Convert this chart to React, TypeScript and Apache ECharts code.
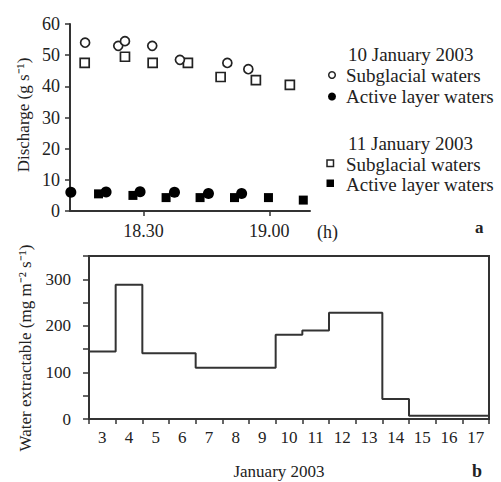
import React, { useEffect, useRef } from "react";
import * as echarts from "echarts";

// Panel a: discharge (minutes after 18:00 vs g s-1)
const sub10Time = [16.1, 24.0, 25.6, 32.1, 38.7, 50.0, 55.0];
const sub10Value = [54, 53, 54.5, 53, 48.5, 47.5, 45.5];
const act10Time = [12.7, 21.1, 29.2, 37.4, 45.5, 53.4];
const act10Value = [6.0, 6.1, 6.2, 6.0, 5.6, 5.6];
const sub11Time = [16.0, 25.6, 32.2, 40.6, 48.4, 56.8, 64.9];
const sub11Value = [47.5, 49.5, 47.5, 47.5, 43, 42, 40.5];
const act11Time = [19.3, 27.5, 35.4, 43.5, 51.7, 59.8, 68.1];
const act11Value = [5.5, 5.0, 4.3, 4.3, 4.3, 4.3, 3.5];
const timeTicks = [30, 60];
const timeTickLabels = ["18.30", "19.00"];

// Panel b: water extractable per day (step)
const days = ["3", "4", "5", "6", "7", "8", "9", "10", "11", "12", "13", "14", "15", "16", "17"];
const stepEdges = [2.5, 3.5, 4.5, 6.5, 9.5, 10.5, 11.5, 13.5, 14.5, 17.5];
const stepValues = [145, 288, 141, 110, 181, 190, 228, 43, 7, 7];

const FONT = "Liberation Serif";
const TXT = "#222";
const LINE = "#333";

const zip = (xs: number[], ys: number[]) => xs.map((x, i) => [x, ys[i]]);

const txt = (x: number, y: number, text: string, extra: any = {}, fontSize = 19, fontWeight = "normal") => ({
  type: "text",
  x,
  y,
  ...extra,
  style: {
    text,
    fill: TXT,
    fontFamily: FONT,
    fontSize,
    fontWeight,
    textVerticalAlign: "middle",
    ...(extra.style || {}),
  },
});

export default function App() {
  const ref = useRef<HTMLDivElement>(null);
  useEffect(() => {
    if (!ref.current) return;
    const chart = echarts.init(ref.current, undefined, { renderer: "svg" });
    const axisLine = { show: true, lineStyle: { color: LINE, width: 2 } };
    const label = { color: TXT, fontFamily: FONT, fontSize: 18 };
    chart.setOption({
      animation: false,
      backgroundColor: "#fff",
      textStyle: { fontFamily: FONT, color: TXT },
      grid: [
        { left: 70, top: 24, width: 240, height: 187, show: false },
        { left: 89, top: 256, width: 400, height: 163, show: true, borderColor: LINE, borderWidth: 2 },
      ],
      xAxis: [
        {
          type: "value",
          gridIndex: 0,
          min: 12.5,
          max: 69.7,
          splitLine: { show: false },
          axisLine,
          axisTick: { show: true, length: 5, lineStyle: { color: LINE, width: 1.5 }, customValues: timeTicks },
          axisLabel: {
            ...label,
            margin: 11,
            customValues: timeTicks,
            formatter: (v: number) => timeTickLabels[timeTicks.indexOf(v)] ?? "",
          },
        },
        {
          type: "category",
          gridIndex: 1,
          data: days,
          boundaryGap: true,
          axisLine,
          axisTick: { show: true, length: 5, interval: 0, alignWithLabel: false, lineStyle: { color: LINE, width: 1.5 } },
          axisLabel: { ...label, fontSize: 17, margin: 10, interval: 0 },
          splitLine: { show: false },
        },
        {
          type: "value",
          gridIndex: 1,
          min: 2.5,
          max: 17.5,
          show: false,
        },
      ],
      yAxis: [
        {
          type: "value",
          gridIndex: 0,
          min: 0,
          max: 60,
          interval: 10,
          splitLine: { show: false },
          axisLine,
          axisTick: { show: true, length: 5, lineStyle: { color: LINE, width: 1.5 } },
          axisLabel: { ...label, margin: 10 },
        },
        {
          type: "value",
          gridIndex: 1,
          min: 0,
          max: 350,
          interval: 50,
          splitLine: { show: false },
          axisLine,
          axisTick: { show: true, length: 6, lineStyle: { color: LINE, width: 1.5 } },
          axisLabel: {
            ...label,
            fontSize: 17,
            margin: 18,
            formatter: (v: number) => (v % 100 === 0 && v < 350 ? String(v) : ""),
          },
        },
      ],
      series: [
        {
          type: "scatter",
          xAxisIndex: 0,
          yAxisIndex: 0,
          data: zip(act11Time, act11Value),
          symbol: "rect",
          symbolSize: 9,
          itemStyle: { color: "#000", opacity: 1 },
        },
        {
          type: "scatter",
          xAxisIndex: 0,
          yAxisIndex: 0,
          data: zip(act10Time, act10Value),
          symbol: "circle",
          symbolSize: 11,
          itemStyle: { color: "#000", opacity: 1 },
        },
        {
          type: "scatter",
          xAxisIndex: 0,
          yAxisIndex: 0,
          data: zip(sub11Time, sub11Value),
          symbol: "rect",
          symbolSize: 9,
          itemStyle: { color: "#fff", borderColor: "#222", borderWidth: 1.7, opacity: 1 },
        },
        {
          type: "scatter",
          xAxisIndex: 0,
          yAxisIndex: 0,
          data: zip(sub10Time, sub10Value),
          symbol: "circle",
          symbolSize: 9,
          itemStyle: { color: "#fff", borderColor: "#222", borderWidth: 1.7, opacity: 1 },
        },
        {
          type: "line",
          xAxisIndex: 2,
          yAxisIndex: 1,
          data: zip(stepEdges, stepValues),
          step: "end",
          showSymbol: false,
          symbol: "none",
          lineStyle: { color: LINE, width: 2 },
        },
      ],
      graphic: [
        txt(348, 54, "10 January 2003"),
        { type: "circle", shape: { cx: 332, cy: 75, r: 3.3 }, style: { fill: "#fff", stroke: "#222", lineWidth: 1.5 } },
        txt(346, 75, "Subglacial waters"),
        { type: "circle", shape: { cx: 332, cy: 96.5, r: 4 }, style: { fill: "#000" } },
        txt(346, 96.5, "Active layer waters"),
        txt(348, 143, "11 January 2003"),
        { type: "rect", shape: { x: 327, y: 160, width: 6.5, height: 6.5 }, style: { fill: "#fff", stroke: "#222", lineWidth: 1.5 } },
        txt(346, 164, "Subglacial waters"),
        { type: "rect", shape: { x: 326.5, y: 179.5, width: 7.5, height: 7.5 }, style: { fill: "#000" } },
        txt(346, 184, "Active layer waters"),
        txt(317, 232, "(h)", {}, 18),
        txt(475, 227, "a", {}, 17, "bold"),
        txt(472, 471, "b", {}, 18, "bold"),
        txt(279, 471, "January 2003", { style: { textAlign: "center" } }, 17),
        txt(23, 115, "Discharge (g s⁻¹)", { rotation: Math.PI / 2, style: { textAlign: "center" } }, 17),
        txt(25, 348, "Water extractable (mg m⁻² s⁻¹)", { rotation: Math.PI / 2, style: { textAlign: "center" } }, 17),
      ],
    });
    return () => chart.dispose();
  }, []);
  return (
    <div
      ref={ref}
      style={{ position: "fixed", left: 0, top: 0, width: 501, height: 482, background: "#fff" }}
    />
  );
}
